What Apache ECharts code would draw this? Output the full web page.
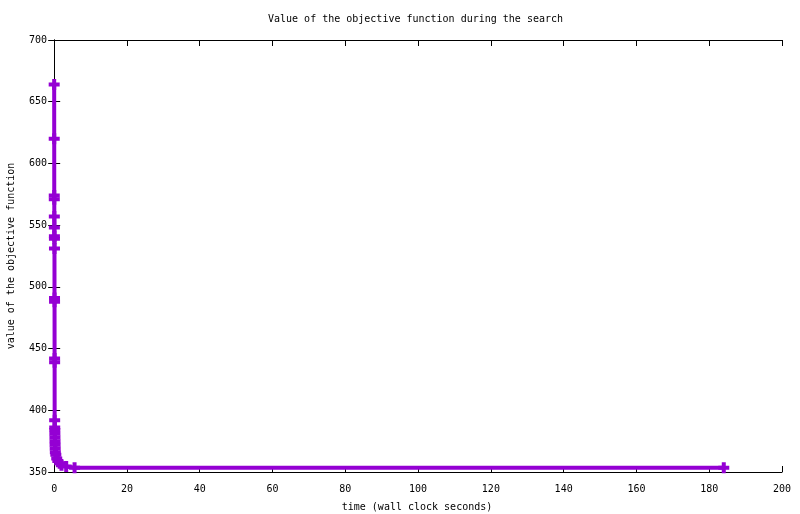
<!DOCTYPE html>
<html>
<head>
<meta charset="utf-8">
<script src="https://cdn.jsdelivr.net/npm/echarts@6/dist/echarts.min.js"></script>
<style>
html,body{margin:0;padding:0;background:#fff;}
#chart{width:800px;height:514px;}
</style>
</head>
<body>
<div id="chart"></div>
<script>
// Data (time in wall clock seconds, objective value)
const times = [0.00, 0.01, 0.02, 0.03, 0.04, 0.05, 0.06, 0.07, 0.08, 0.09, 0.10, 0.11, 0.12, 0.13,
               0.15, 0.17, 0.19, 0.21, 0.23, 0.25, 0.28, 0.32, 0.45, 0.7, 1.0, 1.5, 2.0, 3.3, 5.6, 184];
const values = [664, 620, 574, 571, 557, 548, 541, 539, 531, 491, 488, 442, 439, 392,
                386, 384, 381, 378, 375, 372, 369, 366, 364, 361, 359, 357, 355.5, 354.5, 353.5, 353.5];
const xTicks = [0, 20, 40, 60, 80, 100, 120, 140, 160, 180, 200];
const yTicks = [350, 400, 450, 500, 550, 600, 650, 700];

const titleText = 'Value of the objective function during the search';
const xName = 'time (wall clock seconds)';
const yName = 'value of the objective function';

const font = 'DejaVu Sans Mono';
const purple = '#9400D3';
const plus = 'path://M3.5,0H7.5V3.5H11V7.5H7.5V11H3.5V7.5H0V3.5H3.5Z';

const seriesData = times.map((t, i) => [t, values[i]]);

const chart = echarts.init(document.getElementById('chart'), null, {renderer: 'canvas'});

const axisLine = {show: true, lineStyle: {color: '#000', width: 1}};
const xMin = -0.6, xMax = 200, yMin = yTicks[0], yMax = yTicks[yTicks.length - 1];

chart.setOption({
  animation: false,
  backgroundColor: '#fff',
  title: {
    text: titleText,
    left: 263, top: 9,
    textStyle: {fontFamily: font, fontSize: 10, fontWeight: 'normal', color: '#000'}
  },
  grid: {left: 52, right: 18, top: 40, bottom: 42, containLabel: false, outerBoundsMode: 'none'},
  xAxis: [{
    type: 'value', min: xMin, max: xMax, position: 'bottom',
    name: xName, nameLocation: 'middle', nameGap: 30,
    nameTextStyle: {fontFamily: font, fontSize: 10, color: '#000'},
    axisLine: axisLine,
    axisTick: {show: true, inside: true, length: 6, customValues: xTicks, lineStyle: {color: '#000'}},
    axisLabel: {show: true, customValues: xTicks, margin: 12, fontFamily: font, fontSize: 10, color: '#000'},
    splitLine: {show: false}
  }, {
    type: 'value', min: xMin, max: xMax, position: 'top',
    axisLine: axisLine,
    axisTick: {show: true, inside: true, length: 6, customValues: xTicks, lineStyle: {color: '#000'}},
    axisLabel: {show: false},
    splitLine: {show: false}
  }],
  yAxis: [{
    type: 'value', min: yMin, max: yMax, interval: 50, position: 'left',
    name: yName, nameLocation: 'middle', nameGap: 36, nameRotate: 90,
    nameTextStyle: {fontFamily: font, fontSize: 10, color: '#000'},
    axisLine: axisLine,
    axisTick: {show: true, inside: true, length: 6, lineStyle: {color: '#000'}},
    axisLabel: {show: true, margin: 5, fontFamily: font, fontSize: 10, color: '#000'},
    splitLine: {show: false}
  }, {
    type: 'value', min: yMin, max: yMax, interval: 50, position: 'right',
    axisLine: axisLine,
    axisTick: {show: true, inside: true, length: 6, lineStyle: {color: '#000'}},
    axisLabel: {show: false},
    splitLine: {show: false}
  }],
  series: [{
    type: 'line',
    xAxisIndex: 0, yAxisIndex: 0,
    data: seriesData,
    symbol: plus,
    symbolSize: 11,
    showAllSymbol: true,
    lineStyle: {color: purple, width: 4},
    itemStyle: {color: purple},
    emphasis: {disabled: true}
  }]
});
</script>
</body>
</html>
